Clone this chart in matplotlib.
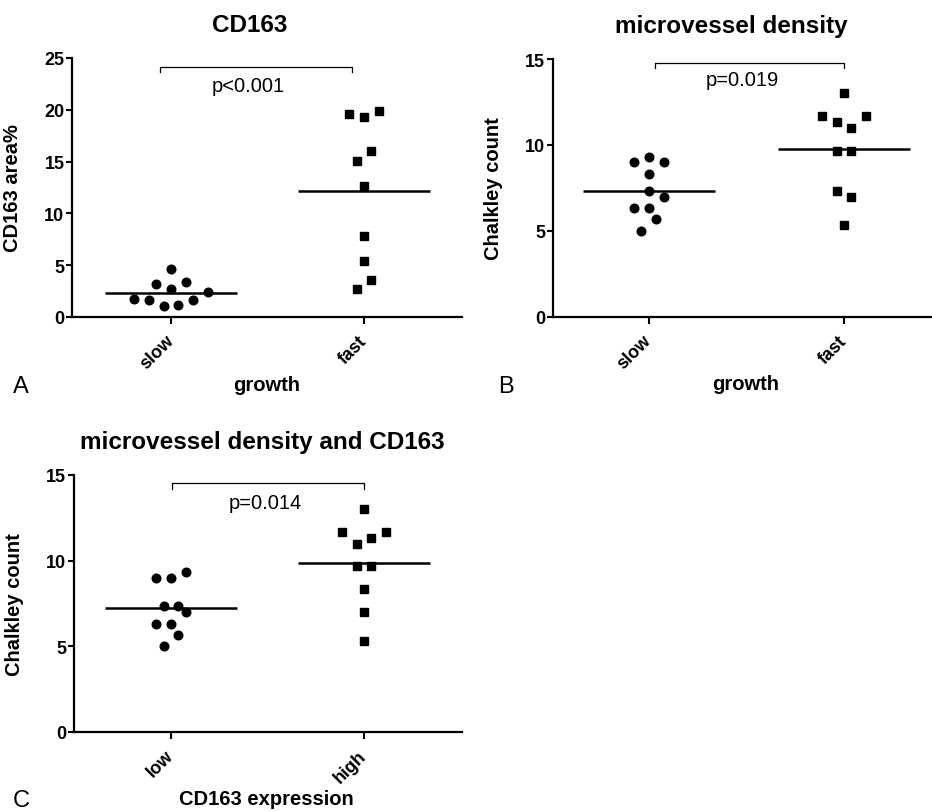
import numpy as np
import matplotlib.pyplot as plt

plt.rcParams['font.family'] = ['Liberation Sans', 'DejaVu Sans']

# A: CD163 area% by growth (slots = horizontal jitter in half marker widths)
a_cats = ['slow', 'fast']
a_slow = [4.67, 3.2, 3.4, 2.7, 2.4, 1.7, 1.6, 1.67, 1.03, 1.2]
a_slow_slot = [0, -4, 4, 0, 10, -10, -6, 6, -2, 2]
a_fast = [19.63, 19.3, 19.9, 16.0, 15.06, 12.65, 7.82, 5.37, 3.54, 2.73]
a_fast_slot = [-4, 0, 4, 2, -2, 0, 0, 0, 2, -2]

# B: microvessel density by growth
b_cats = ['slow', 'fast']
b_slow = [9.33, 9.0, 9.0, 8.33, 7.33, 7.0, 6.33, 6.33, 5.67, 5.0]
b_slow_slot = [0, -4, 4, 0, 0, 4, -4, 0, 2, -2]
b_fast = [13.0, 11.67, 11.67, 11.33, 11.0, 9.67, 9.67, 7.33, 7.0, 5.33]
b_fast_slot = [0, -6, 6, -2, 2, -2, 2, -2, 2, 0]

# C: microvessel density by CD163 expression
c_cats = ['low', 'high']
c_low = [9.33, 9.0, 9.0, 7.33, 7.33, 7.0, 6.33, 6.33, 5.67, 5.0]
c_low_slot = [4, -4, 0, -2, 2, 4, -4, 0, 2, -2]
c_high = [13.0, 11.67, 11.67, 11.0, 11.33, 9.67, 9.67, 8.33, 7.0, 5.33]
c_high_slot = [0, -6, 6, -2, 2, -2, 2, 0, 0, 0]

p_values = ['p<0.001', 'p=0.019', 'p=0.014']

STEP = 0.019   # one half-slot in data units
HALF = 0.34    # half width of the mean line


def panel(rect, xlim, ymax, yticks, cats, g1, s1, g2, s2, title, title_x,
          ylabel, xlabel, xlabel_x, bracket, ptext):
    ax = fig.add_axes(rect)
    for i, (vals, slots, mk) in enumerate([(g1, s1, 'o'), (g2, s2, 's')]):
        xs = i + np.array(slots) * STEP
        ax.plot(xs, vals, mk, color='black', ms=6.2, clip_on=False, zorder=3)
        ax.plot([i - HALF, i + HALF], [np.mean(vals)] * 2, color='black',
                lw=1.8, solid_capstyle='butt', zorder=4)
    # significance bracket
    x0, x1, ytop, ydrop, ptx, pty = bracket
    ax.plot([x0, x0, x1, x1], [ydrop, ytop, ytop, ydrop], color='black',
            lw=0.9, clip_on=False)
    ax.text(ptx, pty, ptext, ha='center', va='center', fontsize=14.5)

    ax.set_xlim(*xlim)
    ax.set_ylim(0, ymax)
    ax.set_yticks(yticks)
    ax.set_xticks([0, 1])
    ax.set_xticklabels(cats, rotation=45, ha='right', va='center',
                       rotation_mode='anchor', fontweight='bold', fontsize=13)
    for lab in ax.get_yticklabels():
        lab.set_fontweight('bold')
        lab.set_fontsize(13)
    ax.tick_params(axis='y', length=4.5, width=1.5, pad=1)
    ax.tick_params(axis='x', length=5, width=1.5, pad=10)
    for side in ['top', 'right']:
        ax.spines[side].set_visible(False)
    for side in ['left', 'bottom']:
        ax.spines[side].set_linewidth(1.6)

    ax.set_ylabel(ylabel, fontsize=14.5, fontweight='bold')
    ax.yaxis.set_label_coords(-0.128, 0.5)
    ax.set_xlabel(xlabel, fontsize=14.5, fontweight='bold', va='baseline')
    ax.xaxis.set_label_coords(xlabel_x, -0.28)
    ax.text(title_x, 1.105, title, transform=ax.transAxes, ha='center',
            va='baseline', fontsize=17.5, fontweight='bold')
    return ax


fig = plt.figure(figsize=(9.32, 8.12), dpi=100)

panel([0.0773, 0.6084, 0.4185, 0.319], (-0.513, 1.508), 25, [0, 5, 10, 15, 20, 25],
      a_cats, a_slow, a_slow_slot, a_fast, a_fast_slot, 'CD163', 0.456,
      'CD163 area%', 'growth', 0.5,
      (-0.057, 0.94, 24.13, 23.6, 0.40, 22.3), p_values[0])

panel([0.5933, 0.6084, 0.4185, 0.3177], (-0.492, 1.508), 15, [0, 5, 10, 15],
      b_cats, b_slow, b_slow_slot, b_fast, b_fast_slot, 'microvessel density', 0.456,
      'Chalkley count', 'growth', 0.495,
      (0.03, 1.0, 14.75, 14.46, 0.48, 13.8), p_values[1])

panel([0.0794, 0.0973, 0.4163, 0.3165], (-0.503, 1.508), 15, [0, 5, 10, 15],
      c_cats, c_low, c_low_slot, c_high, c_high_slot, 'microvessel density and CD163', 0.485,
      'Chalkley count', 'CD163 expression', 0.497,
      (0.005, 1.0, 14.52, 14.2, 0.49, 13.4), p_values[2])

# panel letters
fig.text(13 / 932, 1 - 393 / 812, 'A', fontsize=17, va='baseline')
fig.text(498 / 932, 1 - 393 / 812, 'B', fontsize=17, va='baseline')
fig.text(13 / 932, 1 - 807 / 812, 'C', fontsize=17, va='baseline')

fig.savefig('out.png', dpi=100)
